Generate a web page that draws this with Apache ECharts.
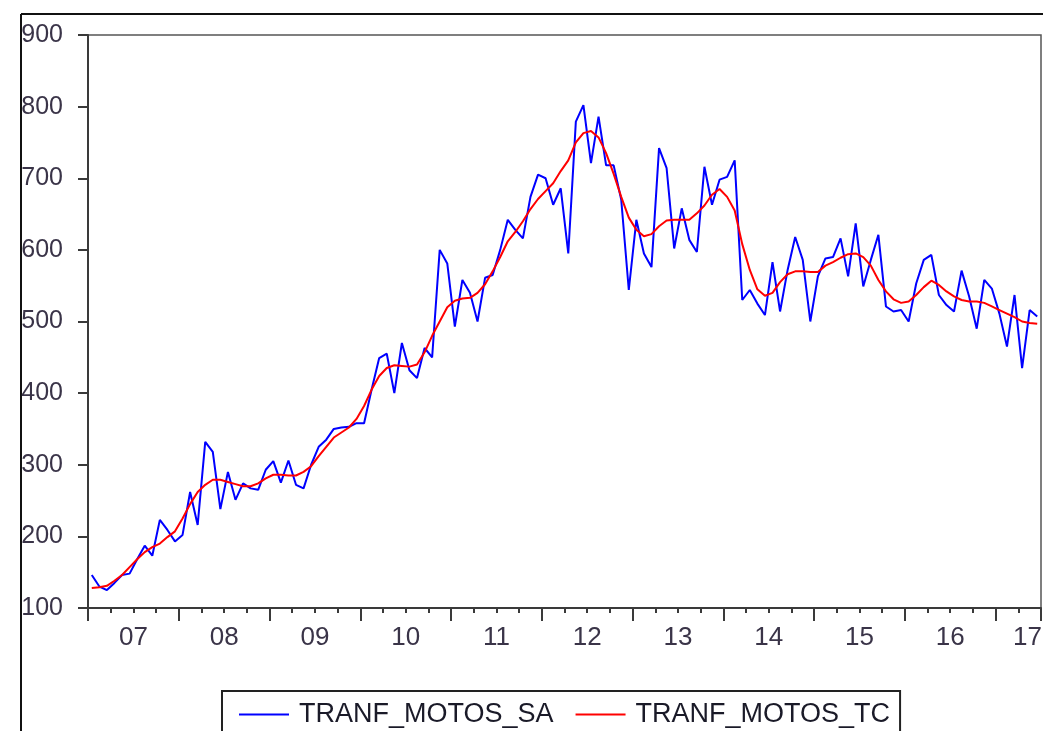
<!DOCTYPE html>
<html>
<head>
<meta charset="utf-8">
<style>
  html, body { margin: 0; padding: 0; background: #ffffff; }
  #chart { width: 1043px; height: 731px; }
</style>
<script src="https://cdn.jsdelivr.net/npm/echarts@6/dist/echarts.min.js"></script>
</head>
<body>
<div id="chart"></div>
<script>
// ---- data (monthly, 2007M01 .. 2017M06) ----
const startYear = 2007;
const yearLabels = ['07', '08', '09', '10', '11', '12', '13', '14', '15', '16', '17'];
const seriesNames = ['TRANF_MOTOS_SA', 'TRANF_MOTOS_TC'];

const motosSA = [
  146, 130, 125, 135, 146, 148, 168, 187, 173, 223, 209, 193,
  202, 262, 216, 332, 318, 238, 290, 251, 274, 267, 265, 293,
  305, 275, 306, 272, 267, 300, 325, 335, 350, 352, 353, 358,
  358, 405, 449, 455, 400, 470, 432, 421, 463, 450, 600, 581,
  493, 558, 540, 500, 561, 565, 600, 642, 628, 616, 674, 705,
  700, 663, 686, 595, 779, 802, 721, 786, 718, 718, 670, 544,
  642, 595, 576, 742, 714, 602, 658, 614, 597, 716, 663, 698,
  702, 725, 530, 544, 525, 509, 583, 514, 572, 618, 586, 500,
  563, 588, 590, 616, 563, 637, 549, 586, 621, 521, 514, 516,
  500, 553, 586, 593, 537, 523, 514, 571, 535, 490, 558, 546,
  511, 465, 537, 435, 516, 507
];

const motosTC = [
  128, 129, 131, 138, 146, 157, 168, 178, 185, 190, 199, 207,
  225, 245, 262, 272, 279, 279, 276, 273, 270, 270, 274, 281,
  286, 286, 285, 285, 290, 298, 312, 325, 338, 345, 352, 364,
  382, 405, 424, 435, 439, 438, 437, 440, 457, 480, 500, 520,
  529, 532, 533, 540, 552, 570, 590, 612, 625, 640, 657, 671,
  682, 693, 710, 725, 750, 763, 766, 757, 735, 706, 674, 645,
  628, 619, 622, 633, 641, 642, 642, 642, 651, 662, 677, 685,
  674, 655, 608, 572, 545, 536, 540, 555, 566, 570, 570, 569,
  569, 578, 583, 589, 594, 595, 590, 578, 558, 542, 531, 526,
  528, 537, 548, 557, 551, 542, 535, 530, 528, 528, 526, 521,
  516, 511, 506, 500, 498, 497
];

const yMin = 100, yMax = 900, yStep = 100;

// ---- build ----
const nObs = motosSA.length;
const xMax = nObs;                 // months spanned by the axis
const toPoints = arr => arr.map((v, i) => [i + 0.5, v]);   // observation centred in its month
const labelPos = yearLabels.map((_, k) => Math.min(12 * k + 6, xMax - 1.8));

const axisColor = '#3a3a3a';
const textColor = '#3a3448';
const fontFamily = '"Liberation Sans", Arial, sans-serif';

const chart = echarts.init(document.getElementById('chart'), null, { renderer: 'canvas' });

chart.setOption({
  animation: false,
  backgroundColor: '#ffffff',
  textStyle: { fontFamily: fontFamily },
  grid: {
    left: 88, top: 35, right: 2, bottom: 123,
    containLabel: false, outerBoundsMode: 'none',
    show: true, borderColor: '#555', borderWidth: 1.5, backgroundColor: 'transparent'
  },
  xAxis: [
    { // quarterly ticks + axis line
      type: 'value', position: 'bottom', min: 0, max: xMax, interval: 3,
      axisLine: { show: true, onZero: false, lineStyle: { color: axisColor, width: 2 } },
      axisTick: { show: true, length: 5, lineStyle: { color: axisColor, width: 2 } },
      axisLabel: { show: false },
      splitLine: { show: false }
    },
    { // year ticks (longer)
      type: 'value', position: 'bottom', min: 0, max: xMax, interval: 12,
      axisLine: { show: false, onZero: false },
      axisTick: { show: true, length: 13, lineStyle: { color: axisColor, width: 2 } },
      axisLabel: { show: false },
      splitLine: { show: false }
    },
    { // year labels centred in each year
      type: 'value', position: 'bottom', min: 0, max: xMax,
      axisLine: { show: false, onZero: false },
      axisTick: { show: false },
      splitLine: { show: false },
      axisLabel: {
        show: true,
        customValues: labelPos,
        margin: 17,
        color: textColor,
        fontSize: 26,
        fontFamily: fontFamily,
        formatter: v => yearLabels[Math.floor(v / 12)] || ''
      }
    }
  ],
  yAxis: {
    type: 'value', min: yMin, max: yMax, interval: yStep,
    axisLine: { show: true, onZero: false, lineStyle: { color: axisColor, width: 2 } },
    axisTick: { show: true, length: 10, lineStyle: { color: axisColor, width: 2 } },
    splitLine: { show: false },
    axisLabel: {
      color: textColor, fontSize: 25, margin: 25, fontFamily: fontFamily
    }
  },
  legend: {
    left: 222, top: 691,
    orient: 'horizontal',
    padding: [10, 10, 14, 17],
    borderColor: '#222', borderWidth: 2,
    itemWidth: 50, itemHeight: 2, itemGap: 22,
    icon: 'rect',
    textStyle: { fontSize: 27, color: '#1a1a28', fontFamily: fontFamily, padding: [0, 0, 0, 5] },
    data: seriesNames
  },
  series: [
    {
      name: seriesNames[0], type: 'line', xAxisIndex: 0,
      data: toPoints(motosSA),
      symbol: 'none', smooth: false,
      lineStyle: { color: '#0000ff', width: 2 },
      itemStyle: { color: '#0000ff' },
      z: 2
    },
    {
      name: seriesNames[1], type: 'line', xAxisIndex: 0,
      data: toPoints(motosTC),
      symbol: 'none', smooth: false,
      lineStyle: { color: '#ff0000', width: 2 },
      itemStyle: { color: '#ff0000' },
      z: 3
    }
  ],
  graphic: [
    { type: 'line', shape: { x1: 21, y1: 14, x2: 1043, y2: 14 }, style: { stroke: '#111', lineWidth: 2 }, silent: true },
    { type: 'line', shape: { x1: 21, y1: 14, x2: 21, y2: 731 }, style: { stroke: '#111', lineWidth: 2 }, silent: true }
  ]
});
</script>
</body>
</html>
